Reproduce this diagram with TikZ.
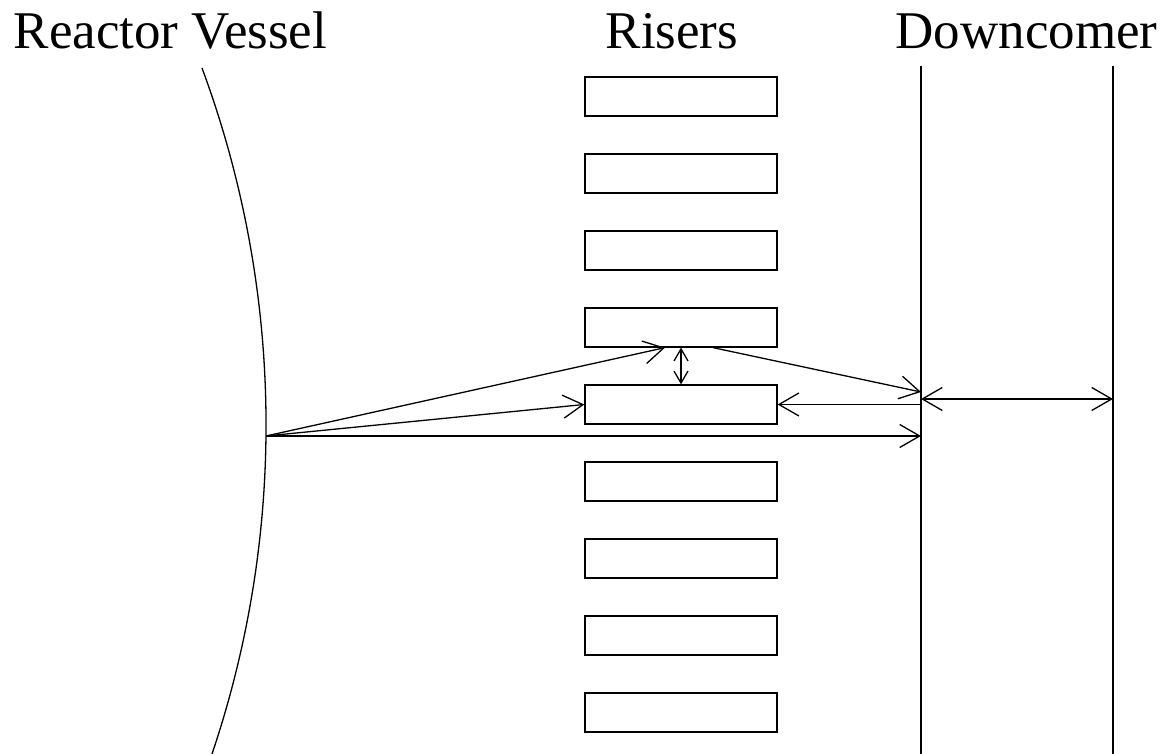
\documentclass[tikz,border=0pt]{standalone}
\usepackage{fontspec}
\setmainfont{Liberation Serif}
\usetikzlibrary{arrows.meta,calc}
\begin{document}
\begin{tikzpicture}[x=1pt,y=1pt,line width=1.3pt,
  riser/.style={draw,minimum width=192pt,minimum height=39pt,inner sep=0pt},
  lbl/.style={anchor=base west,inner sep=0pt,font=\fontsize{53}{60}\selectfont},
  >={Straight Barb[length=20pt,width=23pt]},
  small tips/.style={{Straight Barb[length=12pt,width=14pt]}-{Straight Barb[length=12pt,width=14pt]}}]
\useasboundingbox (0,0) rectangle (1163,754);
% labels
\node[lbl] (tRV) at (13,705) {Reactor Vessel};
\node[lbl] (tRi) at (605,705) {Risers};
\node[lbl] (tDc) at (895,705) {Downcomer};
% reactor vessel wall
\coordinate (src) at (266,318);
\draw ([shift={(20.34:1027.6pt)}]-761.5,328.9) arc[start angle=20.34,end angle=-18.67,radius=1027.6pt];
% risers
\foreach \k in {1,...,9}{
  \node[riser] (r\k) at (681,{754-96.5-77*(\k-1)}) {};
}
% downcomer walls
\coordinate (dLt) at (921,688);
\coordinate (dLb) at (921,0);
\coordinate (dRt) at (1113,688);
\coordinate (dRb) at (1113,0);
\draw (dLt) -- (dLb);
\draw (dRt) -- (dRb);
% connectors
\coordinate (a1) at (src -| dLt);
\draw[->] (src) -- (a1);
\draw[->] (src) -- (r5.west);
\coordinate (a3) at ([xshift=-16pt]r4.south);
\draw[->] (src) -- (a3);
\coordinate (a4s) at ([xshift=32pt]r4.south);
\coordinate (a4e) at (921,362);
\draw[->] (a4s) -- (a4e);
\draw[small tips] (r4.south) -- (r5.north);
\coordinate (a6) at (r5.east -| dLt);
\draw[->] (a6) -- (r5.east);
\coordinate (b1) at (921,355);
\coordinate (b2) at (1113,355);
\draw[<->] (b1) -- (b2);
\end{tikzpicture}
\end{document}
